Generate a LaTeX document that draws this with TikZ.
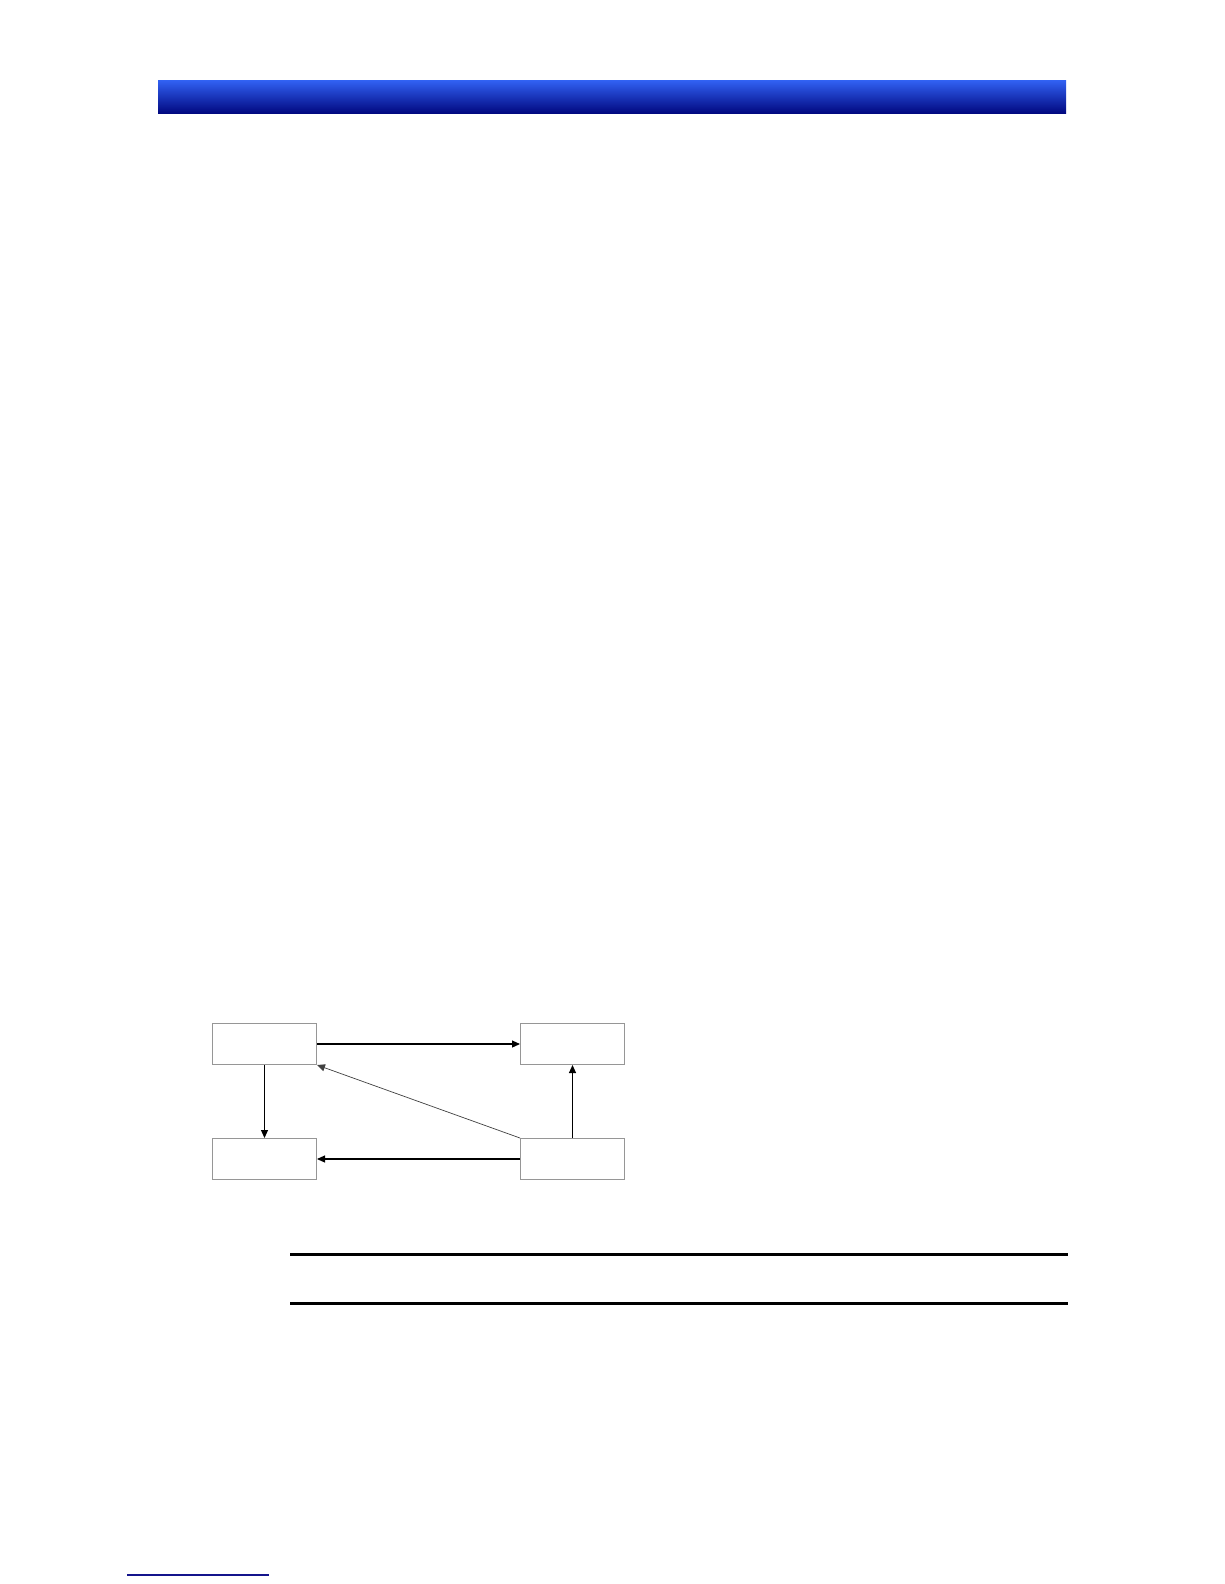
\documentclass[tikz,border=0pt]{standalone}
\usetikzlibrary{arrows.meta}
\definecolor{bartop}{RGB}{48,95,240}
\definecolor{barbot}{RGB}{0,6,125}
\definecolor{boxline}{RGB}{150,150,150}
\definecolor{footblue}{RGB}{20,20,140}
\begin{document}
\begin{tikzpicture}[x=1pt,y=-1pt,
  box/.style={draw=boxline,line width=1pt,fill=white,minimum width=104pt,minimum height=41pt,inner sep=0pt,anchor=north west},
  conn/.style={draw=black,line width=1.1pt,-{Triangle[length=8pt,width=7pt]}},
  diag/.style={draw=black!75,line width=0.7pt,-{Triangle[length=8pt,width=7pt]}}]
\useasboundingbox[fill=white] (0,0) rectangle (1224,1584);
% header bar
\shade[top color=bartop,bottom color=barbot] (158,81) rectangle (1066,114);
% boxes
\node[box] (tl) at (212,1023) {};
\node[box] (tr) at (520,1023) {};
\node[box] (bl) at (212,1138) {};
\node[box] (br) at (520,1138) {};
% connectors
\draw[conn] (tl.east) -- (tr.west);
\draw[conn] (tl.south) -- (bl.north);
\draw[conn] (br.north) -- (tr.south);
\draw[conn] (br.west) -- (bl.east);
\draw[diag] (br.north west) -- (tl.south east);
% rules
\coordinate (r1a) at (290,1254.5);
\coordinate (r1b) at (1068,1254.5);
\coordinate (r2a) at (290,1303.5);
\coordinate (r2b) at (1068,1303.5);
\draw[line width=3pt] (r1a) -- (r1b);
\draw[line width=3pt] (r2a) -- (r2b);
% footer line
\coordinate (f1) at (127,1575);
\coordinate (f2) at (269,1575);
\draw[footblue,line width=1.2pt] (f1) -- (f2);
\end{tikzpicture}
\end{document}
